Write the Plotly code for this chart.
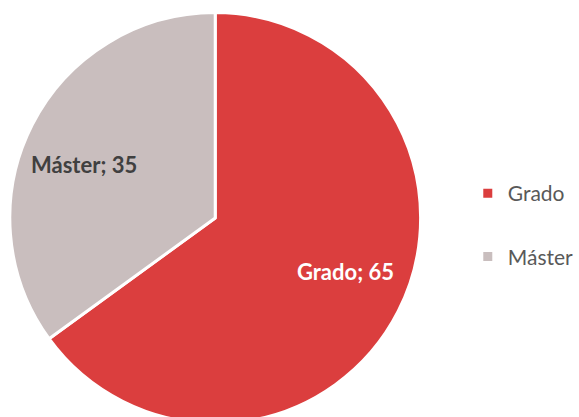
import math
import plotly.graph_objects as go

categories = ["Grado", "Máster"]
values = [65, 35]
colors = ["#DB3E3E", "#C9BEBE"]
label_colors = ["#FFFFFF", "#404040"]

W, H = 579, 430
CX, CY, R = 219, 218, 209   # pie domain centre / half-size in px
LCX = 219                   # label reference centre x

fig = go.Figure()
fig.add_trace(go.Pie(
    labels=categories,
    values=values,
    sort=False,
    direction="clockwise",
    rotation=0,
    marker=dict(colors=colors, line=dict(color="#FFFFFF", width=3)),
    textinfo="none",
    showlegend=False,
    domain=dict(x=[(CX - R) / W, (CX + R) / W], y=[1 - (CY + R) / H, 1 - (CY - R) / H]),
    hoverinfo="skip",
))

# data labels positioned from the slice angles
total = sum(values)
start = 0.0
rl = 0.70 * 205
for name, v, tc in zip(categories, values, label_colors):
    mid = start + v / total * 360 / 2 - 5
    start += v / total * 360
    px = LCX + rl * math.sin(math.radians(mid))
    py = CY - rl * math.cos(math.radians(mid))
    fig.add_annotation(
        x=px / W, y=1 - py / H, xref="paper", yref="paper",
        xanchor="center", yanchor="middle",
        text=f"<b>{name}; {v}</b>", showarrow=False,
        font=dict(family="Lato", size=22, color=tc),
    )

for name, col in zip(categories, colors):
    fig.add_trace(go.Scatter(
        x=[None], y=[None], mode="markers", name=name, legendgroup=name,
        marker=dict(symbol="square", size=9, color=col),
    ))

fig.update_layout(
    width=W, height=H,
    margin=dict(l=0, r=0, t=0, b=0),
    paper_bgcolor="white", plot_bgcolor="white",
    xaxis=dict(visible=False), yaxis=dict(visible=False),
    legend=dict(x=476 / W, y=1 - 225 / H, xanchor="left", yanchor="middle",
                font=dict(family="Lato", size=21, color="#595959"),
                tracegroupgap=33, itemwidth=30),
)

fig.write_html("out.html", config={"displayModeBar": False},
               post_script="document.body.style.margin='0';document.body.style.overflow='hidden';")
